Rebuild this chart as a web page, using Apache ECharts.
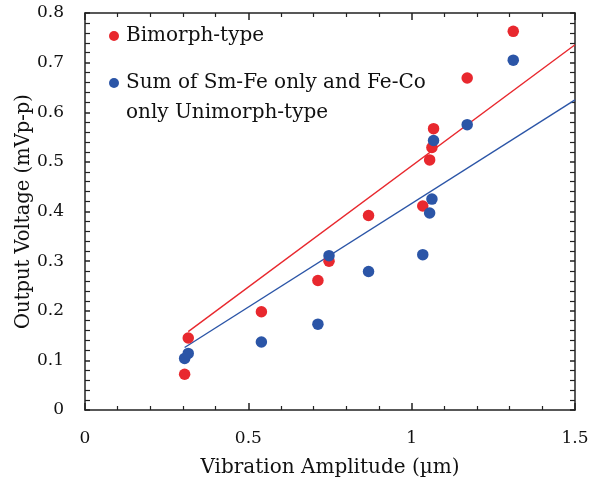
<!DOCTYPE html>
<html>
<head>
<meta charset="utf-8">
<script src="https://cdn.jsdelivr.net/npm/echarts@6/dist/echarts.min.js"></script>
<style>html,body{margin:0;padding:0;background:#fff;}#c{width:598px;height:479px;}</style>
</head>
<body>
<div id="c"></div>
<script>
var seriesNames = ['Bimorph-type', 'Sum of Sm-Fe only and Fe-Co\nonly Unimorph-type'];
var amplitude = [0.305, 0.316, 0.540, 0.713, 0.747, 0.868, 1.034, 1.055, 1.062, 1.067, 1.170, 1.311];
var bimorphV = [0.072, 0.145, 0.198, 0.261, 0.300, 0.392, 0.411, 0.504, 0.529, 0.567, 0.669, 0.763];
var unimorphV = [0.104, 0.114, 0.137, 0.173, 0.311, 0.279, 0.313, 0.397, 0.425, 0.543, 0.575, 0.705];
var bimorphFitX = [0.316, 1.5];
var bimorphFitY = [0.158, 0.736];
var unimorphFitX = [0.305, 1.5];
var unimorphFitY = [0.126, 0.625];
var xTicks = [0, 0.5, 1, 1.5];
var yTicks = [0, 0.1, 0.2, 0.3, 0.4, 0.5, 0.6, 0.7, 0.8];

var RED = '#e8282e', BLUE = '#2b55a7';
var FONT = 'DejaVu Serif';
function pairs(xs, ys) { return xs.map(function (x, i) { return [x, ys[i]]; }); }
function fmt(v) { return String(v); }

var chart = echarts.init(document.getElementById('c'));
var axisLineStyle = { color: '#222', width: 1.5 };
var minorStyle = { color: '#222', width: 1.2 };
chart.setOption({
  animation: false,
  backgroundColor: '#fff',
  grid: { left: 85, right: 23, top: 13, bottom: 69, outerBoundsMode: 'none', containLabel: false },
  legend: [
    { data: [{ name: seriesNames[0], icon: 'circle' }], left: 109, top: 21, padding: 0, itemWidth: 14, itemHeight: 10,
      textStyle: { fontFamily: FONT, fontSize: 20, color: '#111', lineHeight: 30 } },
    { data: [{ name: seriesNames[1], icon: 'circle' }], left: 109, top: 38, padding: 0, itemWidth: 14, itemHeight: 10,
      formatter: function (name) { return '\n' + name; },
      textStyle: { fontFamily: FONT, fontSize: 20, color: '#111', lineHeight: 30 } }
  ],
  xAxis: [{
    type: 'value', min: 0, max: 1.5, interval: 0.5,
    name: 'Vibration Amplitude (µm)', nameLocation: 'middle', nameGap: 48, nameMoveOverlap: false,
    nameTextStyle: { fontFamily: FONT, fontSize: 20, color: '#111' },
    axisLine: { onZero: false, lineStyle: axisLineStyle },
    axisTick: { inside: true, length: 7, lineStyle: axisLineStyle },
    minorTick: { show: true, splitNumber: 5, length: 4, lineStyle: minorStyle },
    axisLabel: { margin: 20, fontFamily: FONT, fontSize: 17, color: '#111', formatter: fmt, customValues: xTicks },
    splitLine: { show: false }
  }, {
    type: 'value', min: 0, max: 1.5, interval: 0.5, position: 'top',
    axisLine: { show: true, onZero: false, lineStyle: axisLineStyle },
    axisTick: { inside: true, length: 7, lineStyle: axisLineStyle },
    minorTick: { show: true, splitNumber: 5, length: 4, lineStyle: minorStyle },
    axisLabel: { show: false }, splitLine: { show: false }
  }],
  yAxis: [{
    type: 'value', min: 0, max: 0.8, interval: 0.1,
    name: 'Output Voltage (mVp-p)', nameLocation: 'middle', nameGap: 51, nameMoveOverlap: false,
    nameTextStyle: { fontFamily: FONT, fontSize: 19.5, color: '#111' },
    axisLine: { show: true, onZero: false, lineStyle: axisLineStyle },
    axisTick: { inside: true, length: 5, lineStyle: axisLineStyle },
    minorTick: { show: true, splitNumber: 5, length: 5, lineStyle: minorStyle },
    axisLabel: { margin: 21, fontFamily: FONT, fontSize: 17, color: '#111', formatter: fmt, customValues: yTicks },
    splitLine: { show: false }
  }, {
    type: 'value', min: 0, max: 0.8, interval: 0.1, position: 'right',
    axisLine: { show: true, onZero: false, lineStyle: axisLineStyle },
    axisTick: { inside: true, length: 5, lineStyle: axisLineStyle },
    minorTick: { show: true, splitNumber: 5, length: 5, lineStyle: minorStyle },
    axisLabel: { show: false }, splitLine: { show: false }
  }],
  series: [
    { name: seriesNames[0], type: 'line', data: pairs(bimorphFitX, bimorphFitY), showSymbol: false, symbol: 'none',
      lineStyle: { color: RED, width: 1.4 }, itemStyle: { color: RED }, z: 2 },
    { name: seriesNames[1], type: 'line', data: pairs(unimorphFitX, unimorphFitY), showSymbol: false, symbol: 'none',
      lineStyle: { color: BLUE, width: 1.4 }, itemStyle: { color: BLUE }, z: 2 },
    { name: seriesNames[0], type: 'scatter', data: pairs(amplitude, bimorphV), symbolSize: 11.5,
      itemStyle: { color: RED, opacity: 1 }, z: 3 },
    { name: seriesNames[1], type: 'scatter', data: pairs(amplitude, unimorphV), symbolSize: 11.5,
      itemStyle: { color: BLUE, opacity: 1 }, z: 4 }
  ]
});
</script>
</body>
</html>
